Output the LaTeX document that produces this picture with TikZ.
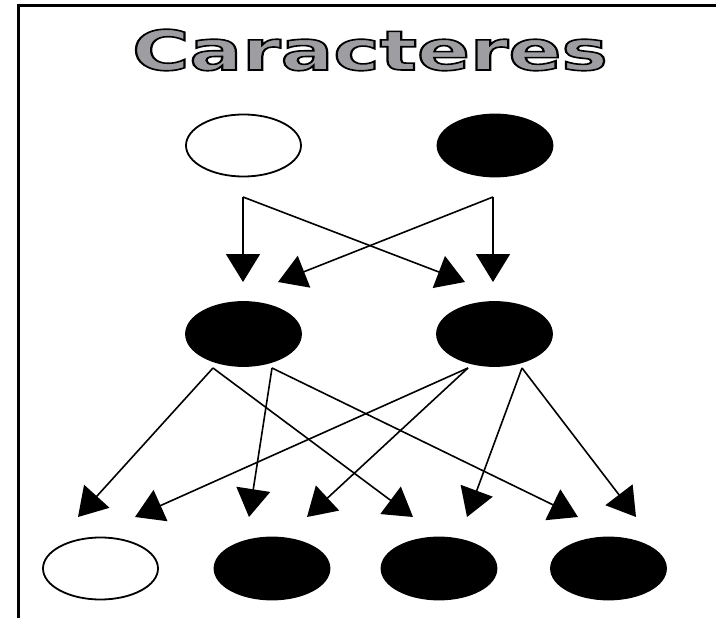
\documentclass[tikz,border=0pt]{standalone}
\usepackage{fontspec}
\usetikzlibrary{arrows.meta,shapes.geometric}
\newfontfamily\titlefont{DejaVu Sans}
\definecolor{titlegray}{RGB}{158,158,162}
\newcommand{\outlinedtext}[1]{\textcolor{titlegray}{\special{pdf:literal direct 2 Tr 1.6 w 0 G}#1\special{pdf:literal direct 0 Tr}}}
\begin{document}
\begin{tikzpicture}[x=1pt,y=-1pt,
  oval/.style={ellipse, draw=black, line width=1.8pt, minimum width=115pt, minimum height=62pt, inner sep=0pt},
  whiteoval/.style={oval, fill=white},
  blackoval/.style={oval, fill=black},
  conn/.style={line width=1.6pt, -{Triangle[length=28pt,width=34pt]}}]
\useasboundingbox (0,0) rectangle (716,618);
\fill[white] (0,0) rectangle (716,618);
% frame
\draw[line width=3pt] (18,618) -- (18,6) -- (716,6);
% title
\node[anchor=base, inner sep=0pt] (title) at (370,70)
  {\scalebox{1.42}[1]{\titlefont\bfseries\fontsize{55}{60}\selectfont\outlinedtext{Caracteres}}};
% top row
\node[whiteoval] (tw) at (243.5,145.5) {};
\node[blackoval] (tb) at (495,145.5) {};
% middle row
\node[blackoval, minimum height=64pt] (ml) at (243.5,334) {};
\node[blackoval, minimum height=64pt] (mr) at (494.5,334) {};
% bottom row
\node[whiteoval] (b1) at (100.5,568.5) {};
\node[blackoval] (b2) at (272,568.5) {};
\node[blackoval] (b3) at (439,568.5) {};
\node[blackoval] (b4) at (608.5,568.5) {};
% connector ends
\coordinate (tws) at (243,197);
\coordinate (tbs) at (493,197);
\coordinate (m1) at (243,282);
\coordinate (m2) at (278,282);
\coordinate (m3) at (465,282);
\coordinate (m4) at (493,282);
\coordinate (mla) at (213,368);
\coordinate (mlb) at (272,368);
\coordinate (mra) at (468,368);
\coordinate (mrb) at (522,368);
\coordinate (t1) at (78,517);
\coordinate (t2) at (135,517);
\coordinate (t3) at (249,517);
\coordinate (t4) at (307,517);
\coordinate (t5) at (413,517);
\coordinate (t6) at (467,517);
\coordinate (t7) at (578,517);
\coordinate (t8) at (636,517);
% top connectors
\draw[conn] (tws) -- (m1);
\draw[conn] (tws) -- (m3);
\draw[conn] (tbs) -- (m4);
\draw[conn] (tbs) -- (m2);
% bottom connectors
\draw[conn] (mla) -- (t1);
\draw[conn] (mla) -- (t5);
\draw[conn] (mlb) -- (t3);
\draw[conn] (mlb) -- (t7);
\draw[conn] (mra) -- (t2);
\draw[conn] (mra) -- (t4);
\draw[conn] (mrb) -- (t6);
\draw[conn] (mrb) -- (t8);
\end{tikzpicture}
\end{document}
